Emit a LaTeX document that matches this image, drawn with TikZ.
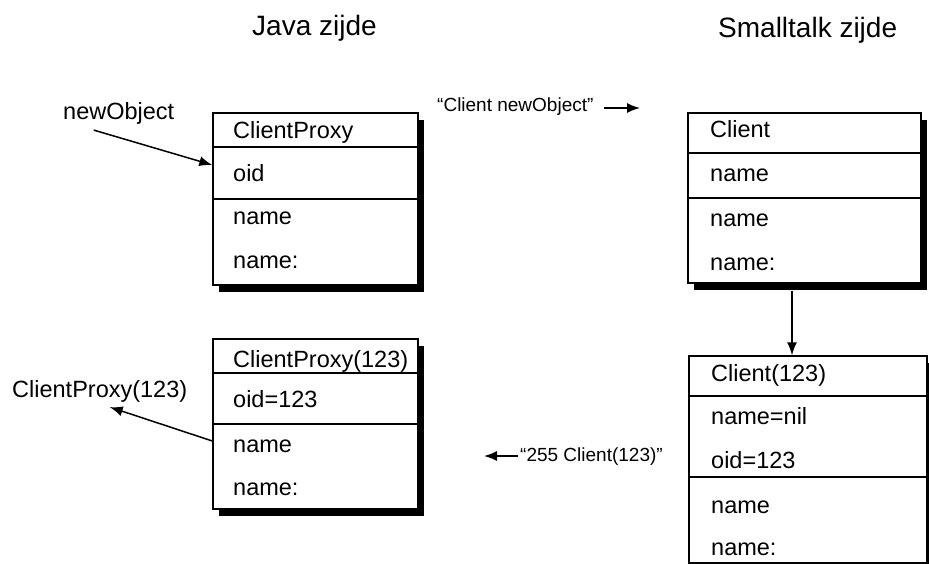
\documentclass[tikz,border=0pt]{standalone}
\usepackage{fontspec}
\setmainfont{Liberation Sans}
\usetikzlibrary{arrows.meta,shadows}
\tikzset{
  umlbox/.style={draw,line width=1.4pt,fill=white,rectangle,inner sep=0pt,
    drop shadow={shadow xshift=6pt,shadow yshift=-7pt,fill=black,opacity=1}},
  rowtxt/.style={anchor=base west,inner sep=0pt,font=\fontsize{23.5}{28}\selectfont},
  sidetitle/.style={anchor=base west,inner sep=0pt,font=\fontsize{28}{33}\selectfont},
  msg/.style={anchor=base west,inner sep=0pt,font=\fontsize{19}{23}\selectfont},
  arr/.style={-{Latex[length=13pt,width=10pt]},line width=1.5pt},
  sep/.style={line width=1.4pt}
}
\begin{document}
\begin{tikzpicture}[x=1pt,y=-1pt]
\clip (0,0) rectangle (929,564);
%titles
        \node[sidetitle] (tjava) at (252,36) {Java zijde};
        \node[sidetitle] (tst) at (718,38) {Smalltalk zijde};

%java side
        \node[umlbox,minimum width=205pt,minimum height=172pt] (cp) at (315.5,199) {};
        \draw[sep] (213,147) -- (418,147);
        \draw[sep] (213,199) -- (418,199);
        \node[rowtxt] (cp1) at (233,139) {ClientProxy};
        \node[rowtxt] (cp2) at (233,182) {oid};
        \node[rowtxt] (cp3) at (233,225) {name};
        \node[rowtxt] (cp4) at (233,268) {name:};

        \node[umlbox,minimum width=205pt,minimum height=170pt] (cq) at (315.5,424) {};
        \draw[sep] (213,373) -- (418,373);
        \draw[sep] (213,424) -- (418,424);
        \node[rowtxt] (cq1) at (233,367) {ClientProxy(123)};
        \node[rowtxt] (cq2) at (233,407) {oid=123};
        \node[rowtxt] (cq3) at (233,452) {name};
        \node[rowtxt] (cq4) at (233,495) {name:};

        \node[rowtxt] (nobj) at (63,120) {newObject};
        \node[rowtxt] (cpl) at (12,397) {ClientProxy(123)};
        \draw[arr] ([xshift=-25pt,yshift=-5pt]nobj.south) -- ([yshift=34pt]cp.west);
        \draw[arr] ([yshift=-17pt]cq.west) -- ([xshift=10pt,yshift=-5pt]cpl.south);

%smalltalk side
        \node[umlbox,minimum width=233pt,minimum height=170pt] (cl) at (804.5,198) {};
        \draw[sep] (688,153) -- (921,153);
        \draw[sep] (688,198) -- (921,198);
        \node[rowtxt] (cl1) at (710,138) {Client};
        \node[rowtxt] (cl2) at (710,182) {name};
        \node[rowtxt] (cl3) at (710,227) {name};
        \node[rowtxt] (cl4) at (710,270) {name:};

        \node[umlbox,minimum width=238pt,minimum height=207pt] (cm) at (808,459.5) {};
        \draw[sep] (689,396) -- (927,396);
        \draw[sep] (689,477) -- (927,477);
        \node[rowtxt] (cm1) at (711,381) {Client(123)};
        \node[rowtxt] (cm2) at (711,424) {name=nil};
        \node[rowtxt] (cm3) at (711,468) {oid=123};
        \node[rowtxt] (cm4) at (711,513) {name};
        \node[rowtxt] (cm5) at (711,555) {name:};

        \draw[arr] ([xshift=-12.5pt,yshift=-7pt]cl.south) -- ([xshift=-16pt]cm.north);

%messages
        \node[msg] (mnew) at (437,112) {“Client newObject”};
        \coordinate (mnewa) at (604,108);
        \coordinate (mnewb) at (640,108);
        \draw[arr] (mnewa) -- (mnewb);

        \node[msg] (mret) at (520,461) {“255 Client(123)”};
        \coordinate (mreta) at (518,456);
        \coordinate (mretb) at (484,456);
        \draw[arr] (mreta) -- (mretb);
\end{tikzpicture}
\end{document}
